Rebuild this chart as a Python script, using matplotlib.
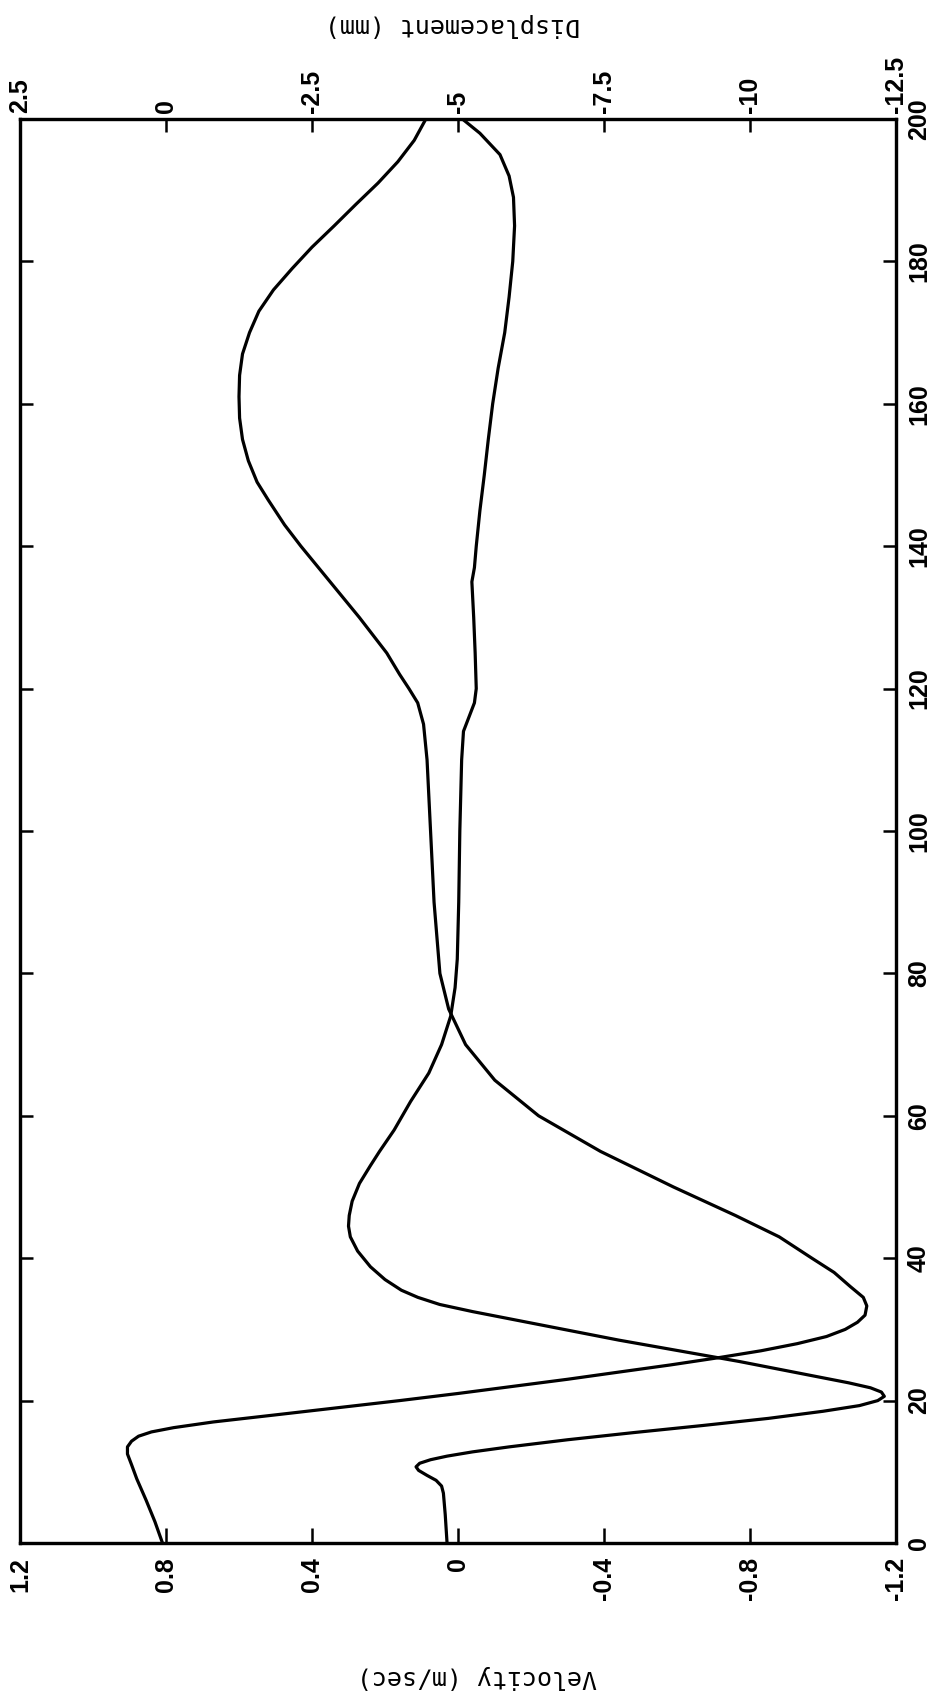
import matplotlib
matplotlib.use("Agg")

import matplotlib.pyplot as plt

# time axis (ms), drawn vertically
time_ticks = [0, 20, 40, 60, 80, 100, 120, 140, 160, 180, 200]
time_labels = [str(t) for t in time_ticks]

# velocity axis (m/sec), drawn along the bottom
vel_ticks = [1.2, 0.8, 0.4, 0, -0.4, -0.8, -1.2]
vel_labels = ["1.2", "0.8", "0.4", "0", "-0.4", "-0.8", "-1.2"]

# displacement axis (mm), drawn along the top
disp_ticks = [2.5, 0, -2.5, -5, -7.5, -10, -12.5]
disp_labels = ["2.5", "0", "-2.5", "-5", "-7.5", "-10", "-12.5"]

# velocity trace
vel_t = [0, 4, 7, 8, 8.8, 9.5, 10.2, 10.7, 11.2, 11.7,
         12.2, 12.8, 13.5, 14.5, 15.5, 16.5, 17.5, 18.5, 19.3, 20,
         20.6, 21.2, 21.8, 22.5, 23.5, 24.5, 25.5, 26.5, 27.5, 28.5,
         29.5, 30.5, 31.5, 32.5, 33.5, 34.5, 35.5, 37, 38.8, 41,
         43, 44.5, 46, 48, 50.5, 53, 55, 58, 62, 66,
         70, 74, 78, 82, 90, 100, 110, 114, 116, 118,
         120, 125, 130, 133, 135, 137, 140, 145, 150, 155,
         160, 165, 170, 175, 180, 185, 189, 192, 195, 198,
         200]
vel_ms = [0.03, 0.035, 0.04, 0.045, 0.06, 0.085, 0.108, 0.115, 0.105, 0.075,
          0.03, -0.04, -0.14, -0.30, -0.48, -0.67, -0.85, -1.0, -1.1, -1.15,
          -1.168, -1.16, -1.13, -1.07, -0.97, -0.87, -0.77, -0.66, -0.55, -0.44,
          -0.34, -0.24, -0.14, -0.04, 0.05, 0.11, 0.155, 0.20, 0.24, 0.275,
          0.295, 0.30, 0.298, 0.29, 0.27, 0.24, 0.215, 0.175, 0.13, 0.08,
          0.045, 0.02, 0.008, 0.002, -0.002, -0.005, -0.01, -0.015, -0.03, -0.045,
          -0.05, -0.047, -0.043, -0.04, -0.038, -0.045, -0.05, -0.06, -0.072, -0.083,
          -0.095, -0.11, -0.128, -0.14, -0.15, -0.155, -0.152, -0.14, -0.115, -0.06,
          -0.012]

# displacement trace
disp_t = [0, 3, 6, 9, 11, 12.5, 13.5, 14.3, 15, 15.6,
          16.2, 17, 18, 19, 20, 21, 22, 23, 24, 25,
          26, 27, 28, 29, 30, 31, 32, 33.3, 34.5, 36,
          38, 40, 43, 46, 50, 55, 60, 65, 70, 75,
          80, 90, 100, 110, 115, 118, 120, 122, 125, 130,
          135, 140, 143, 146.5, 149, 152, 155, 158, 161, 164,
          167, 170, 173, 176, 179, 182, 185, 188, 191, 194,
          197, 200]
disp_mm = [0.06, 0.19, 0.34, 0.5, 0.59, 0.66, 0.66, 0.59, 0.47, 0.25,
           -0.13, -0.81, -1.88, -2.94, -4.0, -5.0, -5.94, -6.88, -7.75, -8.63,
           -9.44, -10.19, -10.81, -11.31, -11.63, -11.84, -11.97, -12.0, -11.94, -11.72,
           -11.44, -11.06, -10.5, -9.75, -8.69, -7.44, -6.38, -5.63, -5.13, -4.84,
           -4.69, -4.59, -4.53, -4.47, -4.41, -4.31, -4.16, -4.0, -3.78, -3.31,
           -2.81, -2.31, -2.03, -1.75, -1.56, -1.41, -1.31, -1.26, -1.25, -1.26,
           -1.31, -1.43, -1.59, -1.84, -2.16, -2.5, -2.88, -3.25, -3.63, -3.97,
           -4.25, -4.45]

plt.rcParams["font.family"] = ["Liberation Sans", "DejaVu Sans"]

fig = plt.figure(figsize=(9.39, 17.0), dpi=100)
ax = fig.add_axes([20 / 939, 1 - 1543 / 1700, 876 / 939, 1424 / 1700])

line_kw = dict(color="black", lw=2.3, solid_joinstyle="round", solid_capstyle="round")
tick_font = dict(labelsize=18)

# ================= VELOCITY (bottom axis) =================
ax.plot(vel_ms, vel_t, **line_kw)
ax.set_xlim(1.2, -1.2)
ax.set_ylim(0, 200)
ax.set_xticks(vel_ticks, labels=vel_labels)
ax.set_yticks(time_ticks, labels=time_labels)

ax.tick_params(axis="x", direction="in", bottom=True, top=False,
               length=10.5, width=1.8, pad=10, labelrotation=90, **tick_font)
ax.tick_params(axis="y", direction="in", left=True, right=True,
               labelleft=False, labelright=True,
               length=9.5, width=1.8, pad=8, labelrotation=90, **tick_font)
for lab in ax.get_yticklabels():
    lab.set_va("center")
for lab in ax.get_xticklabels() + ax.get_yticklabels():
    lab.set_fontweight("bold")

for sp in ax.spines.values():
    sp.set_linewidth(2.3)

# ================= DISPLACEMENT (top axis) =================
ax2 = ax.twiny()
ax2.plot(disp_mm, disp_t, **line_kw)
ax2.set_xlim(2.5, -12.5)
ax2.set_xticks(disp_ticks, labels=disp_labels)
ax2.tick_params(axis="x", direction="in", top=True, bottom=False,
                length=9.5, width=1.8, pad=4, labelrotation=90, **tick_font)
for lab in ax2.get_xticklabels():
    lab.set_fontweight("bold")
for sp in ax2.spines.values():
    sp.set_linewidth(2.3)

# ================= AXIS TITLES (upside down) =================
fig.text(477 / 939, 1 - 1677 / 1700, "Velocity (m/sec)", family="DejaVu Sans Mono",
         fontsize=18, rotation=180, ha="center", va="center")
fig.text(453 / 939, 1 - 25 / 1700, "Displacement (mm)", family="DejaVu Sans Mono",
         fontsize=18, rotation=180, ha="center", va="center")

fig.savefig("out.png", dpi=100)
plt.close(fig)
